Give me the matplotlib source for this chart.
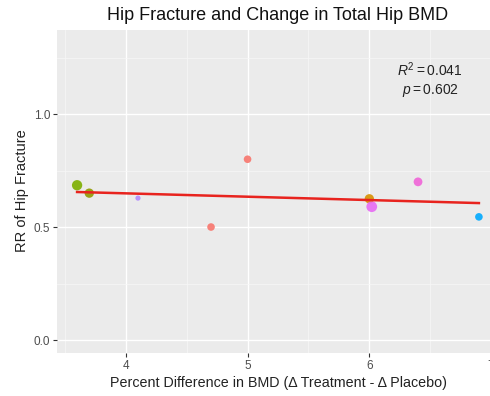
import matplotlib
matplotlib.use("Agg")
import matplotlib.pyplot as plt
from matplotlib.ticker import MultipleLocator

bmd_diff = [3.6, 3.7, 4.1, 4.7, 5.0, 6.0, 6.02, 6.4, 6.9]
rr_hip = [0.685, 0.650, 0.628, 0.500, 0.800, 0.625, 0.590, 0.700, 0.545]
point_colors = ["#7CAE00", "#8F9A00", "#B28CFF", "#F8766D", "#F8766D",
                "#D89000", "#E76BF3", "#F064D8", "#00A9FF"]
point_sizes = [55, 45, 14, 30, 30, 45, 60, 40, 30]
fit_x = [3.6, 6.9]
fit_y = [0.655, 0.606]
x_ticks = [4, 5, 6, 7]
y_ticks = [0.0, 0.5, 1.0]

plt.rcParams['font.family'] = ['Liberation Sans', 'DejaVu Sans']
plt.rcParams['mathtext.fontset'] = 'custom'
plt.rcParams['mathtext.rm'] = 'Liberation Sans'
plt.rcParams['mathtext.it'] = 'Liberation Sans:italic'

fig = plt.figure(figsize=(4.9, 3.96), dpi=100)
W, H = 490, 396
left, right, top, bottom = 57, 499, 30, 353
ax = fig.add_axes([left / W, 1 - bottom / H, (right - left) / W, (bottom - top) / H])
ax.set_facecolor("#EBEBEB")
ax.set_xlim(3.435, 7.065)
ax.set_ylim(-0.0575, 1.372)

ax.xaxis.set_major_locator(MultipleLocator(1))
ax.xaxis.set_minor_locator(MultipleLocator(0.5))
ax.yaxis.set_major_locator(MultipleLocator(0.5))
ax.yaxis.set_minor_locator(MultipleLocator(0.25))
ax.set_xticks(x_ticks)
ax.set_yticks(y_ticks)
ax.set_yticklabels([f"{v:.1f}" for v in y_ticks])
ax.grid(which="major", color="white", linewidth=1.0)
ax.grid(which="minor", color="#F7F7F7", linewidth=0.5)
ax.set_axisbelow(True)
for s in ax.spines.values():
    s.set_visible(False)
ax.tick_params(which="major", length=3, color="#333333", labelsize=8.5, labelcolor="#4D4D4D", pad=2)
ax.tick_params(which="minor", length=0)

ax.scatter(bmd_diff, rr_hip, s=point_sizes, c=point_colors, edgecolors="none", zorder=3, alpha=0.9)
ax.plot(fit_x, fit_y, color="#E8231E", linewidth=1.8, zorder=4)

ax.text(6.5, 1.195, r"$R^2 = 0.041$", fontsize=10, ha="center", va="center", color="#222222")
ax.text(6.5, 1.105, r"$p = 0.602$", fontsize=10, ha="center", va="center", color="#222222")

fig.text(278 / W, 1 - 15 / H, "Hip Fracture and Change in Total Hip BMD",
         ha="center", va="center", fontsize=13, color="#111111")
fig.text(22 / W, 1 - 191 / H, "RR of Hip Fracture", rotation=90,
         ha="center", va="center", fontsize=10.5, color="#222222")
fig.text(278 / W, 1 - 383 / H, "Percent Difference in BMD (Δ Treatment - Δ Placebo)",
         ha="center", va="center", fontsize=10.3, color="#222222")

fig.savefig("out.png", dpi=100)
